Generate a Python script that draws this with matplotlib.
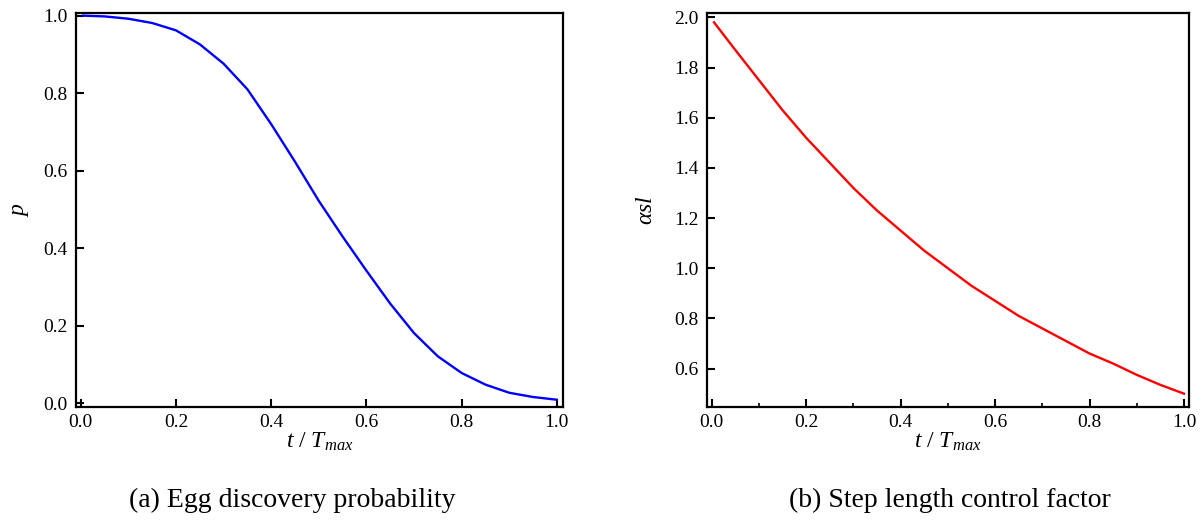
import matplotlib
matplotlib.use("Agg")
import matplotlib.pyplot as plt
from matplotlib.ticker import FormatStrFormatter

plt.rcParams['font.family'] = ['Liberation Serif', 'DejaVu Serif']
plt.rcParams['mathtext.fontset'] = 'custom'
plt.rcParams['mathtext.rm'] = 'Liberation Serif'
plt.rcParams['mathtext.it'] = 'Liberation Serif:italic'

# (a) egg discovery probability
t_p = [0.005, 0.05, 0.1, 0.15, 0.2, 0.25, 0.3, 0.35, 0.4, 0.45, 0.5,
       0.55, 0.6, 0.65, 0.7, 0.75, 0.8, 0.85, 0.9, 0.95, 1.0]
p_vals = [1.0, 0.998, 0.992, 0.981, 0.962, 0.926, 0.876, 0.81, 0.72, 0.623, 0.522,
          0.43, 0.342, 0.257, 0.181, 0.121, 0.078, 0.048, 0.027, 0.016, 0.009]

# (b) step length control factor
t_a = [0.005, 0.05, 0.1, 0.15, 0.2, 0.25, 0.3, 0.35, 0.4, 0.45, 0.5,
       0.55, 0.6, 0.65, 0.7, 0.75, 0.8, 0.85, 0.9, 0.95, 1.0]
asl_vals = [1.98, 1.87, 1.75, 1.63, 1.52, 1.42, 1.32, 1.23, 1.15, 1.07, 1.0,
            0.93, 0.87, 0.81, 0.76, 0.71, 0.66, 0.62, 0.575, 0.535, 0.50]

x_ticks = [0.0, 0.2, 0.4, 0.6, 0.8, 1.0]
p_ticks = [0.0, 0.2, 0.4, 0.6, 0.8, 1.0]
asl_ticks = [0.6, 0.8, 1.0, 1.2, 1.4, 1.6, 1.8, 2.0]

fig = plt.figure(figsize=(12.01, 5.26), dpi=100)
ax1 = fig.add_axes([0.0633, 0.2268, 0.4051, 0.7479])
ax2 = fig.add_axes([0.5884, 0.2268, 0.4016, 0.7479])

ax1.plot(t_p, p_vals, color='blue', lw=1.7)
ax1.set_xlim(-0.01, 1.012)
ax1.set_ylim(-0.009, 1.006)
ax1.set_yticks(p_ticks)
ax1.set_ylabel('$p$', fontsize=17, labelpad=9)

ax2.plot(t_a, asl_vals, color='red', lw=1.7)
ax2.set_xlim(-0.0106, 1.0106)
ax2.set_ylim(0.448, 2.016)
ax2.set_yticks(asl_ticks)
ax2.set_xticks([0.1, 0.3, 0.5, 0.7, 0.9], minor=True)
ax2.set_ylabel(r'$\alpha sl$', fontsize=17, labelpad=12)

for ax in (ax1, ax2):
    ax.set_xticks(x_ticks)
    ax.set_xlabel('$t$ / $T_{max}$', fontsize=17, labelpad=0)
    ax.tick_params(direction='in', which='major', length=6, width=1.5, labelsize=14, pad=5)
    ax.tick_params(direction='in', which='minor', length=3, width=1.2)
    ax.tick_params(axis='y', pad=6)
    for s in ax.spines.values():
        s.set_linewidth(1.6)
    ax.xaxis.set_major_formatter(FormatStrFormatter('%.1f'))
    ax.yaxis.set_major_formatter(FormatStrFormatter('%.1f'))

fig.text(0.243, 0.049, '(a) Egg discovery probability', ha='center', va='center', fontsize=20)
fig.text(0.791, 0.049, '(b) Step length control factor', ha='center', va='center', fontsize=20)

fig.savefig('out.png', dpi=100)
